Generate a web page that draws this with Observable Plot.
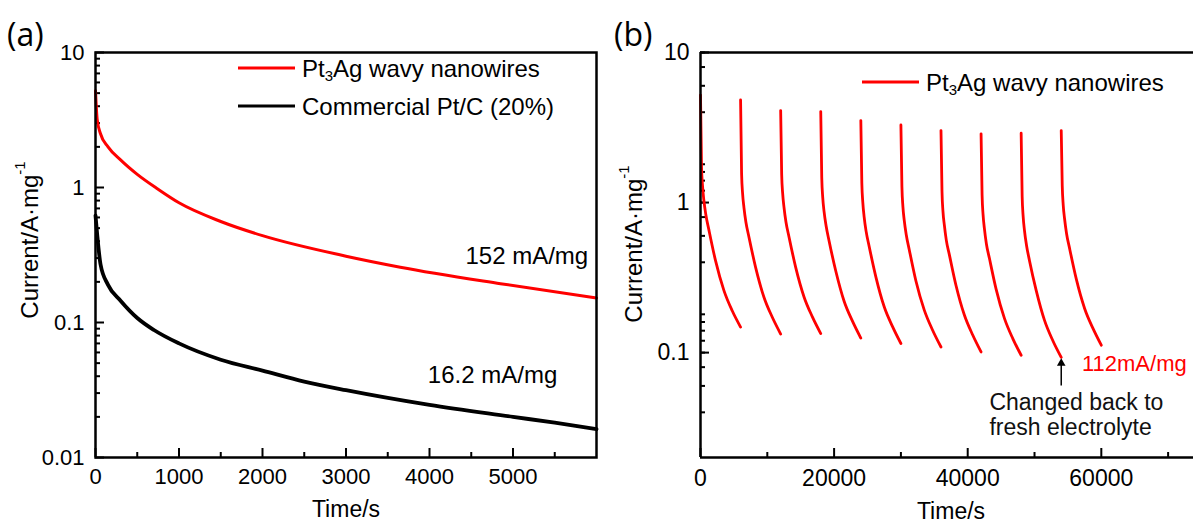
<!DOCTYPE html>
<html>
<head>
<meta charset="utf-8">
<script src="https://cdn.jsdelivr.net/npm/d3@7"></script>
<script src="https://cdn.jsdelivr.net/npm/@observablehq/plot@0.6"></script>
<style>
  body { margin: 0; background: #fff; width: 1193px; height: 527px; overflow: hidden; position: relative; }
  .panel { position: absolute; top: 0; }
  #panelA { left: 0; }
  #panelB { left: 605px; }
  #overlay { position: absolute; left: 0; top: 0; pointer-events: none; }
</style>
</head>
<body>
<div id="panelA" class="panel"></div>
<div id="panelB" class="panel"></div>
<script>
// ---- (a) chronoamperometry, 0–6000 s ----
const timeA = [0, 20, 60, 150, 300, 500, 750, 1000, 1500, 2000, 3000, 3650, 4850, 6000];
const currentPt3Ag = [5.2, 3.2, 2.5, 2.0, 1.6, 1.25, 0.97, 0.77, 0.56, 0.44, 0.31, 0.257, 0.194, 0.152];
const timePtC = [0, 20, 60, 150, 300, 500, 700, 1000, 1500, 2000, 2500, 3000, 4000, 5000, 5500, 6000];
const currentPtC = [0.62, 0.45, 0.27, 0.19, 0.145, 0.108, 0.088, 0.07, 0.053, 0.044, 0.0365, 0.0315, 0.0245, 0.020, 0.0181, 0.0162];
const xTicksA = [0, 1000, 2000, 3000, 4000, 5000];
const xMinorA = [500, 1500, 2500, 3500, 4500, 5500];
const yTicksA = [0.01, 0.1, 1, 10];

// ---- (b) repeated cycles, electrolyte refreshed every 6000 s ----
const cycleStarts = [0, 6000, 12000, 18000, 24000, 30000, 36000, 42000, 48000, 54000];
const cycleOffsets = [0, 150, 300, 500, 800, 1250, 2250, 3500, 4750, 6000];
const cycleCurrents = [
  [5.2, 1.75, 1.3, 1.04, 0.83, 0.66, 0.41, 0.26, 0.19, 0.148],
  [4.83, 1.56, 1.15, 0.93, 0.74, 0.59, 0.37, 0.234, 0.172, 0.133],
  [4.10, 1.55, 1.15, 0.93, 0.74, 0.59, 0.37, 0.235, 0.173, 0.134],
  [4.04, 1.47, 1.08, 0.87, 0.70, 0.555, 0.35, 0.22, 0.162, 0.125],
  [3.52, 1.35, 1.0, 0.80, 0.64, 0.51, 0.32, 0.202, 0.149, 0.115],
  [3.29, 1.28, 0.94, 0.76, 0.61, 0.485, 0.30, 0.192, 0.141, 0.109],
  [3.02, 1.19, 0.87, 0.71, 0.56, 0.45, 0.28, 0.178, 0.131, 0.101],
  [2.87, 1.13, 0.83, 0.67, 0.53, 0.425, 0.265, 0.169, 0.124, 0.096],
  [2.90, 1.1, 0.81, 0.65, 0.52, 0.41, 0.26, 0.164, 0.12, 0.093],
  [3.02, 1.3, 0.96, 0.78, 0.62, 0.495, 0.31, 0.197, 0.145, 0.112]
];
const xTicksB = [0, 20000, 40000, 60000];
const xMinorB = [10000, 30000, 50000, 70000];
const yTicksB = [0.1, 1, 10];

const RED = "#ff0000";
const FONT = "'Liberation Sans', Arial, sans-serif";

// minor log ticks (2..9 within each decade)
function logMinor(lo, hi) {
  const out = [];
  for (let d = lo; d < hi * 0.999; d *= 10)
    for (let k = 2; k <= 9; k++) if (k * d >= lo * 0.999 && k * d <= hi * 1.001) out.push(+(k * d).toPrecision(3));
  return out;
}

const rowsPt3Ag = timeA.map((t, i) => ({t, v: currentPt3Ag[i]}));
const rowsPtC = timePtC.map((t, i) => ({t, v: currentPtC[i]}));
const rowsB = [];
cycleStarts.forEach((s, k) => cycleOffsets.forEach((o, j) => rowsB.push({cycle: k, t: s + o, v: cycleCurrents[k][j]})));

// ---------- panel (a) ----------
{
  const W = 605, H = 527, mL = 95, mR = 9, mT = 52, mB = 70;
  const iw = W - mL - mR, ih = H - mT - mB;
  const lastRed = currentPt3Ag[currentPt3Ag.length - 1];
  const lastBlack = currentPtC[currentPtC.length - 1];
  const chart = Plot.plot({
    width: W, height: H, marginLeft: mL, marginRight: mR, marginTop: mT, marginBottom: mB,
    style: {fontFamily: FONT, fontSize: "22px", color: "#000", background: "transparent"},
    x: {domain: [0, 6000]},
    y: {type: "log", domain: [0.01, 10]},
    marks: [
      Plot.tickY(logMinor(0.01, 10), {y: d => d, insetRight: iw - 5, stroke: "#000", strokeWidth: 2}),
      Plot.tickY(yTicksA, {y: d => d, insetRight: iw - 9, stroke: "#000", strokeWidth: 2}),
      Plot.tickX(xMinorA, {x: d => d, insetTop: ih - 5, stroke: "#000", strokeWidth: 2}),
      Plot.tickX(xTicksA, {x: d => d, insetTop: ih - 9, stroke: "#000", strokeWidth: 2}),
      Plot.axisY(yTicksA, {tickSize: 0, tickPadding: 11, label: null, tickFormat: d => String(d), fontSize: 22}),
      Plot.axisX(xTicksA, {tickSize: 0, tickPadding: 11, label: null, tickFormat: d => String(d), fontSize: 22}),
      Plot.line(rowsPtC, {x: "t", y: "v", stroke: "#000", strokeWidth: 3.8, curve: "monotone-x"}),
      Plot.line(rowsPt3Ag, {x: "t", y: "v", stroke: RED, strokeWidth: 3, curve: "monotone-x"}),
      Plot.text([`${Math.round(lastRed * 1000)} mA/mg`], {x: 5900, y: 0.31, textAnchor: "end", fontSize: 24}),
      Plot.text([`${(lastBlack * 1000).toFixed(1)} mA/mg`], {x: 5530, y: 0.0405, textAnchor: "end", fontSize: 24}),
      Plot.frame({stroke: "#000", strokeWidth: 2.5})
    ]
  });
  document.getElementById("panelA").append(chart);
}

// ---------- panel (b) ----------
{
  const W = 588, H = 527, mL = 95, mR = 0, mT = 52, mB = 70;
  const iw = W - mL - mR, ih = H - mT - mB;
  const lastB = cycleCurrents[cycleCurrents.length - 1];
  const finalB = lastB[lastB.length - 1];
  const chart = Plot.plot({
    width: W, height: H, marginLeft: mL, marginRight: mR, marginTop: mT, marginBottom: mB,
    style: {fontFamily: FONT, fontSize: "23px", color: "#000", background: "transparent"},
    x: {domain: [0, 73800]},
    y: {type: "log", domain: [0.02, 10]},
    marks: [
      Plot.tickY(logMinor(0.02, 10), {y: d => d, insetRight: iw - 5, stroke: "#000", strokeWidth: 2}),
      Plot.tickY(yTicksB, {y: d => d, insetRight: iw - 9, stroke: "#000", strokeWidth: 2}),
      Plot.tickX(xMinorB, {x: d => d, insetTop: ih - 5, stroke: "#000", strokeWidth: 2}),
      Plot.tickX(xTicksB, {x: d => d, insetTop: ih - 9, stroke: "#000", strokeWidth: 2}),
      Plot.axisY(yTicksB, {tickSize: 0, tickPadding: 11, label: null, tickFormat: d => String(d), fontSize: 23}),
      Plot.axisX(xTicksB, {tickSize: 0, tickPadding: 12, label: null, tickFormat: d => String(d), fontSize: 23}),
      Plot.line(rowsB, {x: "t", y: "v", z: "cycle", stroke: RED, strokeWidth: 2.8, curve: "monotone-x"}),
      // refresh marker under the ninth cycle
      Plot.ruleX([54000], {y1: 0.06, y2: 0.085, stroke: "#000", strokeWidth: 1.5}),
      Plot.dot([54000], {x: d => d, y: 0.085, symbol: "triangle", r: 3.2, fill: "#000", stroke: null}),
      Plot.text([`${Math.round(finalB * 1000)}mA/mg`], {x: 57100, y: 0.0846, textAnchor: "start", fill: RED, fontSize: 22}),
      Plot.text(["Changed back to\nfresh electrolyte"], {x: 43250, y: 0.0387, textAnchor: "start", lineHeight: 1.09, fontSize: 23, fill: "#111"}),
      Plot.ruleY([10], {stroke: "#000", strokeWidth: 2.5}),
      Plot.ruleY([0.02], {stroke: "#000", strokeWidth: 2.5}),
      Plot.ruleX([0], {stroke: "#000", strokeWidth: 2.5})
    ]
  });
  document.getElementById("panelB").append(chart);
}

// ---------- panel letters, axis titles and legends ----------
{
  const svg = d3.select("body").append("svg").attr("id", "overlay")
    .attr("width", 1193).attr("height", 527)
    .attr("font-family", FONT).attr("fill", "#000");

  svg.append("text").attr("x", 7).attr("y", 33).attr("dominant-baseline", "central")
    .attr("font-family", "'Open Sans', sans-serif").attr("font-size", 32).text("(a)");
  svg.append("text").attr("x", 614).attr("y", 33).attr("dominant-baseline", "central")
    .attr("font-family", "'Open Sans', sans-serif").attr("font-size", 32).text("(b)");

  function yTitle(cx, cy) {
    const t = svg.append("text").attr("transform", `translate(${cx},${cy}) rotate(-90)`)
      .attr("text-anchor", "middle").attr("dominant-baseline", "central").attr("font-size", 24);
    t.append("tspan").text("Current/A·mg");
    t.append("tspan").attr("font-size", 15).attr("dy", -10).text("-1");
  }
  yTitle(29, 240);
  yTitle(633, 244);

  svg.append("text").attr("x", 346).attr("y", 509).attr("text-anchor", "middle")
    .attr("dominant-baseline", "central").attr("font-size", 23).text("Time/s");
  svg.append("text").attr("x", 951).attr("y", 511).attr("text-anchor", "middle")
    .attr("dominant-baseline", "central").attr("font-size", 23).text("Time/s");

  function legendEntry(x0, y, color, parts) {
    svg.append("line").attr("x1", x0).attr("x2", x0 + 57).attr("y1", y).attr("y2", y)
      .attr("stroke", color).attr("stroke-width", 3);
    const t = svg.append("text").attr("x", x0 + 64).attr("y", y).attr("dominant-baseline", "central").attr("font-size", 24);
    parts(t);
  }
  const pt3ag = t => {
    t.append("tspan").text("Pt");
    t.append("tspan").attr("font-size", 15).attr("dy", 7).text("3");
    t.append("tspan").attr("dy", -7).text("Ag wavy nanowires");
  };
  legendEntry(238, 68, RED, pt3ag);
  legendEntry(238, 106, "#000", t => t.text("Commercial Pt/C (20%)"));
  legendEntry(862, 82, RED, pt3ag);
}
</script>
</body>
</html>
